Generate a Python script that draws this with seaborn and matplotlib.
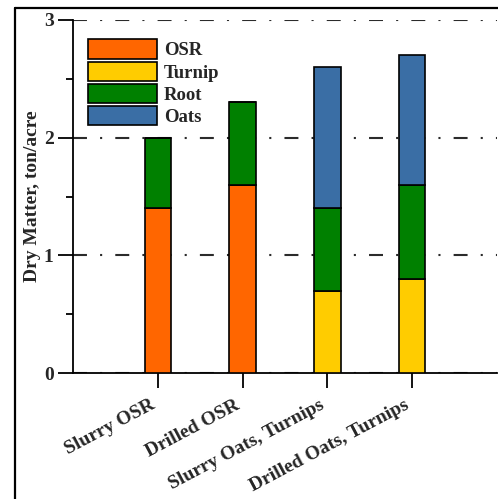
import matplotlib

matplotlib.use("Agg")
import matplotlib.pyplot as plt
import numpy as np
import seaborn as sns
from matplotlib.lines import Line2D
from matplotlib.patches import Patch
from matplotlib.ticker import MultipleLocator
from matplotlib.transforms import ScaledTranslation

treatments = ["Slurry OSR", "Drilled OSR", "Slurry Oats, Turnips", "Drilled Oats, Turnips"]
components = ["OSR", "Turnip", "Root", "Oats"]
osr = [1.4, 1.6, 0.0, 0.0]
turnip = [0.0, 0.0, 0.7, 0.8]
root = [0.6, 0.7, 0.7, 0.8]
oats = [0.0, 0.0, 1.2, 1.1]
colors = ["#FF6600", "#FFCC00", "#008000", "#3A6EA5"]

sns.set_style("ticks")
plt.rcParams["font.family"] = ["Liberation Serif", "DejaVu Serif"]
plt.rcParams["font.weight"] = "bold"

fig = plt.figure(figsize=(4.98, 4.99), dpi=100)
ax = fig.add_axes([73 / 498, 126 / 499, 424 / 498, 353 / 499])

base = np.zeros(len(treatments))
for name, values, color in zip(components, [osr, turnip, root, oats], colors):
    sns.barplot(
        x=treatments,
        y=values,
        bottom=base.copy(),
        color=color,
        width=0.31,
        edgecolor="black",
        linewidth=1.2,
        saturation=1,
        ax=ax,
        zorder=3,
    )
    base += np.array(values)

ax.set_xlim(-1, 4)
ax.set_ylim(0, 3)
ax.yaxis.set_major_locator(MultipleLocator(1))
ax.yaxis.set_minor_locator(MultipleLocator(0.5))
ax.grid(axis="y", which="major", color="#2b2b2b", linewidth=1.5,
        linestyle=(0, (6.7, 6.3, 1, 6.3)), zorder=0)
ax.set_axisbelow(True)

for side in ["top", "right"]:
    ax.spines[side].set_visible(False)
for side in ["left", "bottom"]:
    ax.spines[side].set_linewidth(1.3)
    ax.spines[side].set_color("black")

ax.tick_params(axis="y", which="major", direction="out", length=11, width=1.3,
               labelsize=14, pad=3, color="black")
ax.tick_params(axis="y", which="minor", direction="out", length=5, width=1.3, color="black")
ax.tick_params(axis="x", which="major", direction="out", length=11, width=1.3,
               labelsize=14, pad=10, color="black")

shift = ScaledTranslation(-4 / 100, -2 / 100, fig.dpi_scale_trans)
for lab in ax.get_xticklabels():
    lab.set_rotation(28)
    lab.set_ha("right")
    lab.set_va("center")
    lab.set_rotation_mode("anchor")
    lab.set_fontweight("bold")
    lab.set_transform(lab.get_transform() + shift)
for lab in ax.get_yticklabels():
    lab.set_fontweight("bold")

ax.set_xlabel("")
ax.set_ylabel("Dry Matter, ton/acre", fontsize=14, fontweight="bold")
ax.yaxis.set_label_coords(-0.076, 0.5)

handles = [Patch(facecolor=c, edgecolor="black", linewidth=1.2, label=n)
           for n, c in zip(components, colors)]
ax.legend(handles=handles, loc="upper left", bbox_to_anchor=(0.035, 0.945),
          frameon=False, borderpad=0, borderaxespad=0, handlelength=3.7,
          handleheight=1.2, labelspacing=0.12, handletextpad=0.35,
          prop={"size": 13.5, "weight": "bold"})

# frame of the cropped figure
fig.add_artist(Line2D([15 / 498, 1], [1 - 8 / 499, 1 - 8 / 499],
                      transform=fig.transFigure, color="black", linewidth=1.6))
fig.add_artist(Line2D([15 / 498, 15 / 498], [0, 1 - 8 / 499],
                      transform=fig.transFigure, color="black", linewidth=1.6))

fig.savefig("out.png", dpi=100)
